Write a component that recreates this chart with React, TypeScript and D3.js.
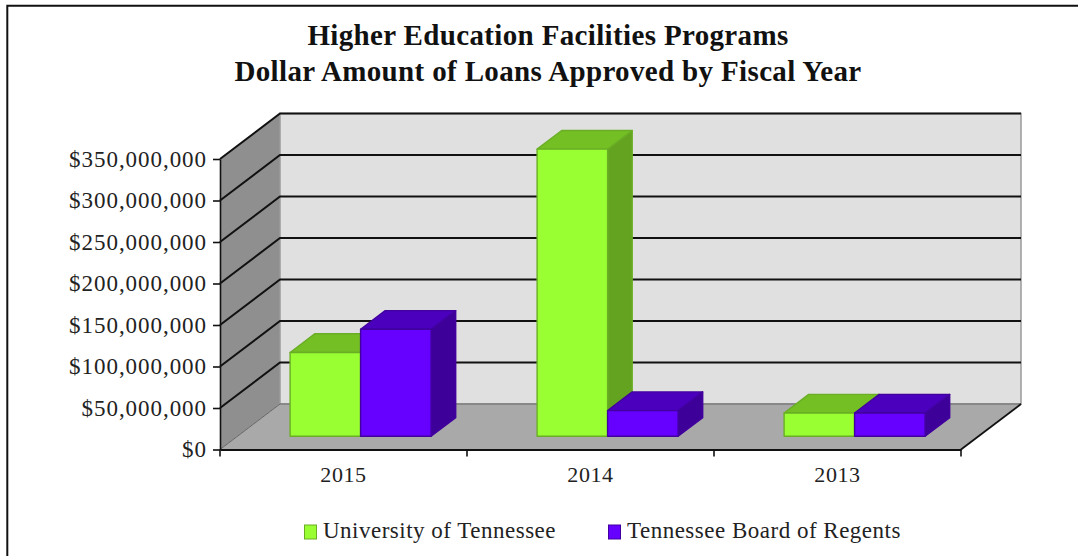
import React, { useEffect, useRef } from 'react';
import * as d3 from 'd3';

const years = ['2015', '2014', '2013'];
const seriesNames = ['University of Tennessee', 'Tennessee Board of Regents'];
const utValues = [101000000, 346000000, 28000000];
const tbrValues = [129000000, 31000000, 28000000];
const yTicks = [0, 50000000, 100000000, 150000000, 200000000, 250000000, 300000000, 350000000];
const titleLines = ['Higher Education Facilities Programs', 'Dollar Amount of Loans Approved by Fiscal Year'];

const seriesColors = [
  { front: '#99ff33', top: '#73bf24', side: '#63a31f', edge: '#6aae25' },
  { front: '#6600ff', top: '#4a00bd', side: '#3d0099', edge: '#42009f' },
];

const width = 1078;
const height = 556;
const font = '"Liberation Serif", "Times New Roman", serif';

export default function App() {
  const svgRef = useRef<SVGSVGElement>(null);

  useEffect(() => {
    if (!svgRef.current) return;
    const svg = d3.select(svgRef.current);
    svg.selectAll('*').remove();

    // front plane of the 3d box
    const xFront = 220;
    const xEnd = 961;
    const y0 = 449.5;
    const yTop = 159;
    const depthX = 60;
    const depthY = -45.5;

    const x = d3.scaleBand().domain(years).range([xFront, xEnd]);
    const inner = d3.scaleBand().domain(seriesNames).range([52.7, x.bandwidth() - 53.3]);
    const y = d3.scaleLinear().domain([0, 350000000]).range([y0, yTop]);

    // d runs 0 (front) to 1 (back wall)
    const px = (v: number, d: number) => v + d * depthX;
    const py = (v: number, d: number) => v + d * depthY;
    const poly = (pts: [number, number][]) => d3.line()(pts) + 'Z';

    const maxV = y.domain()[1];

    // left wall
    svg.append('path')
      .attr('d', poly([[xFront, y0], [xFront, y(maxV)], [px(xFront, 1), py(y(maxV), 1)], [px(xFront, 1), py(y0, 1)]]))
      .attr('fill', '#8f8f8f');

    // back wall
    svg.append('path')
      .attr('d', poly([[px(xFront, 1), py(y(maxV), 1)], [px(xEnd, 1), py(y(maxV), 1)], [px(xEnd, 1), py(y0, 1)], [px(xFront, 1), py(y0, 1)]]))
      .attr('fill', '#e0e0e0')
      .attr('stroke', '#9a9a9a')
      .attr('stroke-width', 1.5);

    // floor
    svg.append('path')
      .attr('d', poly([[xFront, y0], [xEnd, y0], [px(xEnd, 1), py(y0, 1)], [px(xFront, 1), py(y0, 1)]]))
      .attr('fill', '#a9a9a9');

    // gridlines, the zero one only along the floor edges
    yTicks.forEach(t => {
      const yy = y(t);
      svg.append('path')
        .attr('d', d3.line()(t === 0
          ? [[xFront, yy], [px(xFront, 1), py(yy, 1)]]
          : [[xFront, yy], [px(xFront, 1), py(yy, 1)], [px(xEnd, 1), py(yy, 1)]]))
        .attr('fill', 'none')
        .attr('stroke', t === 0 ? '#666' : '#111')
        .attr('stroke-width', t === 0 ? 1 : 2);
    });

    // back edge of the floor and its right hand side
    svg.append('path')
      .attr('d', d3.line()([[px(xFront, 1), py(y0, 1)], [px(xEnd, 1), py(y0, 1)]]))
      .attr('stroke', '#666')
      .attr('stroke-width', 1);
    svg.append('path')
      .attr('d', d3.line()([[xEnd, y0], [px(xEnd, 1), py(y0, 1)]]))
      .attr('stroke', '#111')
      .attr('stroke-width', 1.8);

    // bars sit in the middle of the depth
    const d1 = 0.29;
    const d2 = 0.7;
    [utValues, tbrValues].forEach((values, s) => {
      const c = seriesColors[s];
      values.forEach((v, i) => {
        const xa = x(years[i])! + inner(seriesNames[s])!;
        const xb = xa + inner.bandwidth();
        const base = y(0);
        const top = y(v);
        const g = svg.append('g')
          .attr('stroke', c.edge)
          .attr('stroke-width', 1.4)
          .attr('stroke-linejoin', 'round');
        g.append('path')
          .attr('d', poly([[px(xb, d1), py(base, d1)], [px(xb, d2), py(base, d2)], [px(xb, d2), py(top, d2)], [px(xb, d1), py(top, d1)]]))
          .attr('fill', c.side);
        g.append('path')
          .attr('d', poly([[px(xa, d1), py(top, d1)], [px(xb, d1), py(top, d1)], [px(xb, d2), py(top, d2)], [px(xa, d2), py(top, d2)]]))
          .attr('fill', c.top);
        g.append('path')
          .attr('d', poly([[px(xa, d1), py(base, d1)], [px(xb, d1), py(base, d1)], [px(xb, d1), py(top, d1)], [px(xa, d1), py(top, d1)]]))
          .attr('fill', c.front);
      });
    });

    // y axis
    const yAxis = svg.append('g')
      .attr('transform', `translate(${xFront},0)`)
      .call(d3.axisLeft(y).tickValues(yTicks).tickSize(7).tickSizeOuter(0).tickPadding(6).tickFormat(d => d3.format('$,')(d as number)));
    yAxis.selectAll('path,line').attr('stroke', '#111').attr('stroke-width', 1.6);
    yAxis.selectAll('text')
      .attr('font-family', font)
      .attr('font-size', 23)
      .attr('letter-spacing', 0.95)
      .attr('fill', '#222');

    // x axis
    const xAxis = svg.append('g')
      .attr('transform', `translate(0,${y0})`)
      .call(d3.axisBottom(x).tickSize(0).tickPadding(17));
    xAxis.select('.domain').attr('stroke', '#111').attr('stroke-width', 2);
    xAxis.selectAll('text')
      .attr('font-family', font)
      .attr('font-size', 22)
      .attr('letter-spacing', 0.6)
      .attr('fill', '#222');
    [...years.map(c => x(c)!), xEnd].forEach(t => {
      xAxis.append('line')
        .attr('x1', t).attr('x2', t).attr('y1', 0).attr('y2', 7)
        .attr('stroke', '#111').attr('stroke-width', 1.6);
    });

    // title
    titleLines.forEach((line, i) => {
      svg.append('text')
        .attr('x', 548)
        .attr('y', 45 + i * 36)
        .attr('text-anchor', 'middle')
        .attr('font-family', font)
        .attr('font-size', 29)
        .attr('font-weight', 'bold')
        .attr('letter-spacing', 0.35)
        .attr('fill', '#111')
        .text(line);
    });

    // legend
    const legendX = [304, 608];
    seriesNames.forEach((name, i) => {
      svg.append('rect')
        .attr('x', legendX[i] + 0.5)
        .attr('y', 525)
        .attr('width', 12)
        .attr('height', 14)
        .attr('fill', seriesColors[i].front)
        .attr('stroke', seriesColors[i].edge);
      svg.append('text')
        .attr('x', legendX[i] + 19)
        .attr('y', 538)
        .attr('font-family', font)
        .attr('font-size', 23)
        .attr('letter-spacing', 0.5)
        .attr('fill', '#222')
        .text(name);
    });

    // outer frame, open on the right
    svg.append('path')
      .attr('d', d3.line()([[7.3, height], [7.3, 5.7], [width, 5.7]]))
      .attr('fill', 'none')
      .attr('stroke', '#111')
      .attr('stroke-width', 2);
  }, []);

  return (
    <svg
      ref={svgRef}
      width={width}
      height={height}
      style={{ position: 'absolute', left: 0, top: 0, background: '#fff' }}
    />
  );
}
